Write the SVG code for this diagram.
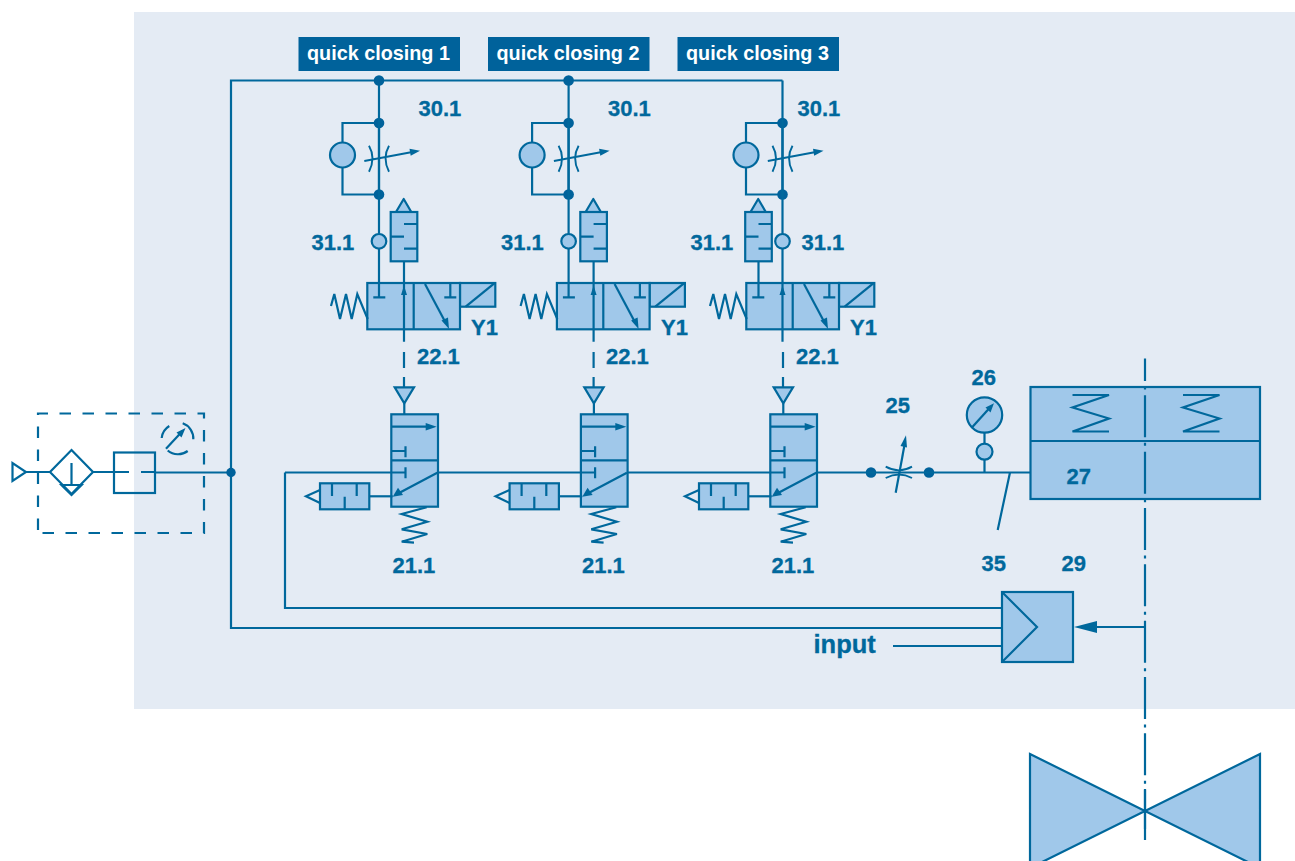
<svg xmlns="http://www.w3.org/2000/svg" width="1295" height="861" viewBox="0 0 1295 861">
<style>
.s{fill:none;stroke:#00689c;stroke-width:2.2;stroke-linejoin:miter}
.t{fill:none;stroke:#00689c;stroke-width:1.9}
.f{fill:#a0c8ea;stroke:#00689c;stroke-width:2.2}
.h{fill:#00689c;stroke:none}
.d{fill:#00629b;stroke:none}
.n{fill:none;stroke:#00689c;stroke-width:2.2;stroke-dasharray:16 9}
.lb{font-family:"Liberation Sans",Arial,sans-serif;font-weight:700;font-size:22px;fill:#00689c;stroke:#00689c;stroke-width:.3}
.in{font-size:25.5px}
.hd{font-family:"Liberation Sans",Arial,sans-serif;font-weight:700;font-size:19.8px;fill:#ffffff}
</style>
<defs>
<g id="bypass">
<path class="s" d="M379 123H342.500V194.500H379"/>
<circle class="f" cx="342.500" cy="155" r="12.500"/>
<path class="t" d="M369 145.700Q376 158 369 171.700M389 145.700Q382 158 389 171.700M364.300 161L411 152.300"/>
<path class="h" d="M420 150.700L409.500 148.700L410.700 155.700Z"/>
<circle class="d" cx="379" cy="123" r="5.300"/>
<circle class="d" cx="379" cy="194.500" r="5.300"/>
<circle class="f" cx="379" cy="241.300" r="7.300"/>
</g>
<g id="pilot">
<path class="f" d="M396 212L403.700 199L411.300 212Z" stroke-linejoin="round"/>
<rect class="f" x="390.700" y="212" width="26.600" height="49.300"/>
<path class="s" d="M404 224H417.300M390.700 236.700H404M404 248.700H417.300"/>
</g>
<g id="mainvalve">
<rect class="f" x="460" y="283" width="35.300" height="23.700"/>
<path class="s" d="M465.700 306.700L494.300 283.300"/>
<rect class="f" x="367.300" y="283" width="92.700" height="46.300"/>
<path class="s" d="M413.700 283V329.300M450.300 283V297.300M444.300 297.300H456.300M373.300 297.300H385.300M331 306L334.300 294L340 319L346 294L351.700 319L357.300 294L367.700 319"/>
<path class="s" d="M425 284L445 321.500"/>
<path class="h" d="M449 329L441.500 320.500L448 317.500Z"/>
</g>
<g id="lowervalve">
<path class="f" d="M394.700 387.300H414L404.300 403.300Z"/>
<path class="s" d="M404.300 403.300V414.300"/>
<rect class="f" x="391.300" y="414.300" width="46.700" height="92.400"/>
<path class="s" d="M391.300 460.300H438M391.300 426.700H428M391.300 451H405.500M405.500 446.300V457.300M405.500 467.300V478.300M437.300 472.700L400 492.500"/>
<path class="h" d="M436.700 426.700L425.700 423V430.400Z"/>
<path class="h" d="M392.700 496.700L398 487.700L403 495Z"/>
<path class="s" d="M426.700 507.300L401.700 514L427.300 521.700L401.700 529.300L427.300 534L401.700 541.700L414 542.700"/>
<path class="s" d="M369.300 496.300H392.700"/>
<rect class="f" x="320" y="483.300" width="49.300" height="26"/>
<path class="s" d="M332 483.300V496M344.700 496.700V509.300M356.700 483.300V496M320 490L306 496.300L320 503"/>
</g>
</defs>

<rect x="134" y="12" width="1161" height="697" fill="#e4ebf4"/>

<g id="nodes">
<g id="header-1"><rect class="d" x="298.500" y="37" width="161.500" height="34"/><text class="hd" x="307" y="60">quick closing 1</text></g>
<g id="header-2"><rect class="d" x="488" y="37" width="161.500" height="34"/><text class="hd" x="496.500" y="60">quick closing 2</text></g>
<g id="header-3"><rect class="d" x="677.500" y="37" width="161.500" height="34"/><text class="hd" x="686" y="60">quick closing 3</text></g>

<g id="throttle-30-1"><use href="#bypass"/><text class="lb" x="418.500" y="116">30.1</text></g>
<g id="throttle-30-2"><use href="#bypass" transform="translate(189.600 0)"/><text class="lb" x="608" y="116">30.1</text></g>
<g id="throttle-30-3"><use href="#bypass" transform="translate(403.500 0)"/><text class="lb" x="797.500" y="116">30.1</text></g>

<g id="pilot-31-1"><use href="#pilot"/><text class="lb" x="311.500" y="250">31.1</text></g>
<g id="pilot-31-2"><use href="#pilot" transform="translate(189.600 0)"/><text class="lb" x="501" y="250">31.1</text></g>
<g id="pilot-31-3"><use href="#pilot" transform="translate(354.500 0)"/><text class="lb" x="690.500" y="250">31.1</text><text class="lb" x="801.500" y="250">31.1</text></g>

<g id="solenoid-1"><use href="#mainvalve"/><text class="lb" x="471" y="335">Y1</text><text class="lb" x="417" y="364">22.1</text></g>
<g id="solenoid-2"><use href="#mainvalve" transform="translate(189.600 0)"/><text class="lb" x="661" y="335">Y1</text><text class="lb" x="606" y="364">22.1</text></g>
<g id="solenoid-3"><use href="#mainvalve" transform="translate(379 0)"/><text class="lb" x="850" y="335">Y1</text><text class="lb" x="796" y="364">22.1</text></g>

<g id="valve-21-1"><use href="#lowervalve"/><text class="lb" x="392.500" y="573">21.1</text></g>
<g id="valve-21-2"><use href="#lowervalve" transform="translate(189.600 0)"/><text class="lb" x="582" y="573">21.1</text></g>
<g id="valve-21-3"><use href="#lowervalve" transform="translate(379 0)"/><text class="lb" x="771.500" y="573">21.1</text></g>

<g id="air-supply">
<path class="s" d="M12.500 463V481L26 472Z"/>
<path class="s" d="M71.500 450L93 472L71.500 494L50 472Z"/>
<path class="s" d="M71.500 463V485M61.500 485H81.500L71.500 495Z"/>
<rect class="s" x="114" y="452.500" width="41" height="40.500"/>
<path class="s" d="M38 533V413.500H204V533H38" stroke-dasharray="11.500 11.500" stroke-dashoffset="-3"/>
<path class="s" d="M166 448.700L182.500 431"/>
<path class="h" d="M185.500 428L176.500 432.500L181.500 437.500Z"/>
<path class="s" d="M161.700 438A16 16 0 0 1 169.300 426M182.700 423.300A16 16 0 0 1 193.300 439.300M167.700 450.500A16 16 0 0 0 187.700 451"/>
</g>

<g id="throttle-25">
<path class="t" d="M885.700 466.700Q899 474 912 466.700M885.700 478Q899 471 912 478"/>
<path class="s" d="M895.700 492.700L904.500 445"/>
<path class="h" d="M906 435.300L900.500 446L907 447.500Z"/>
<circle class="d" cx="871" cy="472.500" r="5.300"/>
<circle class="d" cx="929" cy="472.500" r="5.300"/>
<text class="lb" x="885.500" y="413">25</text>
</g>

<g id="gauge-26">
<circle class="f" cx="984.500" cy="415" r="17.700"/>
<path class="s" d="M971.700 427.700L990 407.500"/>
<path class="h" d="M994 403.300L985.500 407.500L990.500 412.500Z"/>
<circle class="f" cx="984.500" cy="451.700" r="8"/>
<text class="lb" x="971.500" y="385">26</text>
</g>

<g id="actuator-27">
<rect class="f" x="1030.500" y="387" width="229.500" height="112"/>
<path class="s" d="M1030.500 441H1260M1072.500 395H1109L1072.500 407.500L1109 418.500L1072.500 431.500H1109M1183 395H1219.500L1183 407.500L1219.500 418.500L1183 431.500H1219.500"/>
<text class="lb" x="1066.500" y="484">27</text>
</g>

<g id="positioner-29">
<rect class="f" x="1002" y="592" width="71" height="70"/>
<path class="s" d="M1002 592L1037 627L1002 662"/>
<text class="lb" x="1061.500" y="571">29</text>
</g>

<g id="valve-body">
<path class="f" d="M1030 754L1145 811L1030 868ZM1260 754L1145 811L1260 868Z"/>
</g>

<text class="lb" x="981.500" y="571">35</text>
<text class="lb in" x="813.500" y="653">input</text>
</g>

<g id="connectors">
<path class="s" d="M782.500 80.500H231V628H1002M156 472.500H231M26 472H50M93 472H129M141 472H156M285 472.500V608H1002M893 646H1002"/>
<path class="s" d="M379 80.500V233.700M379 248.700V297.300M568.600 80.500V233.700M568.600 248.700V297.300M782.500 80.500V233.700M782.500 248.700V341.700"/>
<path class="s" stroke-width="2.800" d="M379 123V194.500M568.600 123V194.500M782.500 123V194.500"/>
<path class="s" d="M404 261.300V341.700M593.600 261.300V341.700M758.500 261.300V297.300"/>
<path class="h" d="M404 285.500L401 295H407ZM593.600 285.500L590.600 295H596.600ZM782.500 285.500L779.500 295H785.500Z"/>
<path class="n" d="M404 352V387.300M593.600 352V387.300M783 352V387.300"/>
<path class="s" d="M285 472.500H405.500M438 472.500H595M627.600 472.500H784.500M817 472.500H1030.500M984.500 433V443.700M984.500 459.700V472.500M1010 472.500L997.700 530"/>
<circle class="d" cx="231" cy="472.500" r="4.700"/>
<circle class="d" cx="379" cy="80.500" r="5.300"/>
<circle class="d" cx="568.600" cy="80.500" r="5.300"/>
<path class="s" d="M1145 627H1097"/>
<path class="h" d="M1074 627L1097 621V633Z"/>
<path class="s" stroke-dasharray="42 5.500 3 5.830" stroke-dashoffset="19.500" d="M1145 358.500V829"/>
<path class="s" d="M1145 789V840"/>
</g>
</svg>
